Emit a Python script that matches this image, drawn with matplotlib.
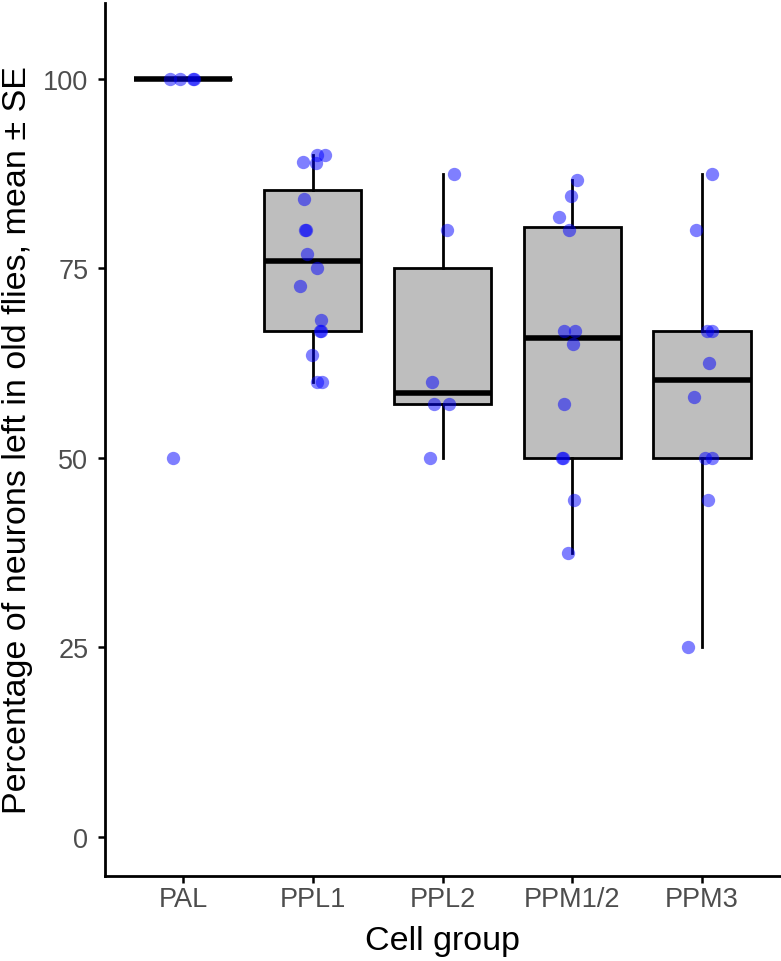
import matplotlib
matplotlib.use("Agg")
import matplotlib.pyplot as plt
import numpy as np

plt.rcParams['font.family'] = ['Liberation Sans', 'DejaVu Sans']

groups = ["PAL", "PPL1", "PPL2", "PPM1/2", "PPM3"]

# percentage of neurons left per fly
pal = [100, 100, 100, 100, 50]
ppl1 = [90, 90, 89, 88.9, 84.2, 80, 80, 76.9, 75, 72.7, 68.2, 66.7, 66.7, 63.6, 60, 60]
ppl2 = [87.5, 80, 60, 57.1, 57.1, 50]
ppm12 = [86.7, 84.6, 81.8, 80, 66.7, 66.7, 65, 57.1, 50, 50, 44.4, 37.5]
ppm3 = [87.5, 80, 66.7, 66.7, 62.5, 58.0, 50, 50, 44.4, 25]

# horizontal jitter of each point (fraction of a category step)
jit_pal = [-0.10, -0.02, 0.08, 0.085, -0.08]
jit_ppl1 = [0.036, 0.095, -0.072, 0.023, -0.067, -0.059, -0.054, -0.041,
            0.036, -0.098, 0.062, 0.056, 0.062, -0.002, 0.036, 0.075]
jit_ppl2 = [0.087, 0.031, -0.079, -0.067, 0.048, -0.098]
jit_ppm12 = [0.036, -0.010, -0.102, -0.028, -0.067, 0.023, 0.005, -0.067,
             -0.079, -0.069, 0.010, -0.036]
jit_ppm3 = [0.079, -0.048, 0.038, 0.077, 0.054, -0.062, 0.023, 0.077, 0.048, -0.105]

data = [pal, ppl1, ppl2, ppm12, ppm3]
jitters = [jit_pal, jit_ppl1, jit_ppl2, jit_ppm12, jit_ppm3]

fig = plt.figure(figsize=(7.81, 9.62), dpi=100)
ax = fig.add_axes([105/781, 85/962, 675/781, 873/962])

pos = np.arange(1, len(groups) + 1)
ax.boxplot(data, positions=pos, widths=0.75, patch_artist=True,
           showfliers=False, showcaps=False, whis=1.5,
           boxprops=dict(facecolor="#BEBEBE", edgecolor="black", linewidth=2.0),
           whiskerprops=dict(color="black", linewidth=2.0),
           medianprops=dict(color="black", linewidth=4.0, solid_capstyle="butt"))

for p, vals, jit in zip(pos, data, jitters):
    ax.scatter(p + np.array(jit), vals, s=92, color="#0000FF", alpha=0.5,
               linewidths=0, zorder=5)

ax.set_xlim(0.4, 5.6)
ax.set_ylim(-5.15, 110.0)
ax.set_xticks(pos)
ax.set_xticklabels(groups)
ax.set_yticks([0, 25, 50, 75, 100])

for s in ["top", "right"]:
    ax.spines[s].set_visible(False)
for s in ["left", "bottom"]:
    ax.spines[s].set_linewidth(2.0)

ax.tick_params(axis="both", length=5, width=1.8, color="black",
               labelsize=19.5, labelcolor="#4D4D4D")
ax.tick_params(axis="y", pad=7)
ax.tick_params(axis="x", pad=2)

ax.set_xlabel("Cell group", fontsize=24.5)
ax.set_ylabel("Percentage of neurons left in old flies, mean \u00b1 SE", fontsize=24.5)
ax.xaxis.set_label_coords(0.5, -0.056)
ax.yaxis.set_label_coords(-0.106, 0.5)

fig.savefig("out.png", dpi=100)
